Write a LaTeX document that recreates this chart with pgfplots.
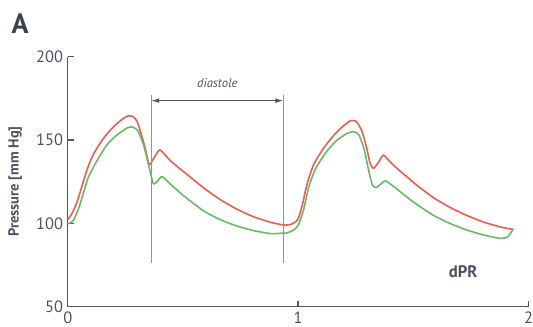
\documentclass[border=0pt]{standalone}
\usepackage{pgfplots}
\pgfplotsset{compat=1.18}
\usepackage{fontspec}
\setmainfont{PT Sans}
\usetikzlibrary{arrows.meta}
\definecolor{redc}{HTML}{EF5B4C}
\definecolor{greenc}{HTML}{66BB66}
\definecolor{axc}{HTML}{555555}
\definecolor{labc}{HTML}{4A5260}
\begin{document}
\begin{tikzpicture}
\useasboundingbox (-50.8pt,-15.2pt) rectangle (349pt,230pt);
\begin{axis}[
  at={(0,0)}, anchor=south west,
  scale only axis, width=345.75pt, height=187.5pt,
  xmin=0, xmax=2, ymin=50, ymax=200,
  axis x line=bottom, axis y line=left,
  axis line style={-, draw=axc, line width=1.1pt},
  xtick={0,1,2}, ytick={50,100,150,200},
  tick align=inside, major tick length=4.5pt,
  tick style={draw=axc, line width=1.1pt},
  /pgf/number format/assume math mode=true,
  tick label style={font=\fontsize{12.3}{14}\selectfont, text=labc},
  ylabel={Pressure [mm Hg]},
  every axis y label/.style={at={(axis description cs:-0.114,0.5)}, rotate=90, anchor=center, font=\bfseries\fontsize{10.9}{12}\selectfont, text=labc},
  clip=false,
]
\addplot[redc, line width=1.2pt, line join=round, smooth, tension=0.35] coordinates {
(0,102.2) (0.017,105.5) (0.039,112.2) (0.061,121.9) (0.083,131.8) (0.111,141.3)
(0.155,151.0) (0.198,157.8) (0.242,163.0) (0.264,164.5) (0.283,164.0) (0.300,161.5)
(0.314,155.8) (0.336,145.2) (0.350,136.5) (0.358,135.5) (0.380,140.5) (0.401,144.0)
(0.445,137.6) (0.488,132.6) (0.517,129.4) (0.590,121.2) (0.662,114.2) (0.735,108.4)
(0.807,103.9) (0.880,100.6) (0.923,99.3) (0.945,98.9) (0.967,99.3) (0.981,100.2)
(0.996,101.8) (1.003,104.0) (1.017,110.3) (1.039,123.8) (1.068,135.5) (1.111,145.2)
(1.155,152.9) (1.198,158.7) (1.227,161.6) (1.245,161.5) (1.257,160.3) (1.278,154.9)
(1.297,145.2) (1.311,136.5) (1.322,133.3) (1.329,133.1) (1.348,136.5) (1.370,140.9)
(1.401,136.5) (1.445,131.0) (1.488,126.0) (1.517,122.6) (1.590,115.1) (1.662,109.3)
(1.735,104.5) (1.807,100.6) (1.880,97.7) (1.935,96.3)
};
\addplot[greenc, line width=1.2pt, line join=round, smooth, tension=0.35] coordinates {
(0,99.6) (0.024,101.6) (0.046,108.4) (0.068,118.0) (0.090,127.7) (0.126,137.4)
(0.170,147.1) (0.213,152.9) (0.257,157.2) (0.278,157.8) (0.295,156.8) (0.307,154.9)
(0.329,147.1) (0.350,135.5) (0.370,124.2) (0.378,123.8) (0.387,124.8) (0.409,128.1)
(0.445,123.6) (0.488,118.3) (0.517,115.0) (0.590,107.4) (0.662,102.2) (0.735,98.3)
(0.807,95.6) (0.880,93.8) (0.923,94.0) (0.952,94.2) (0.967,95.0) (0.988,96.7)
(1.003,99.7) (1.024,108.4) (1.046,121.9) (1.075,132.6) (1.119,142.3) (1.162,149.1)
(1.206,153.5) (1.235,154.9) (1.250,154.5) (1.264,152.9) (1.285,145.2) (1.303,133.5)
(1.322,122.9) (1.340,121.5) (1.358,123.5) (1.380,125.4) (1.416,121.9) (1.459,117.1)
(1.488,114.0) (1.517,111.1) (1.590,104.5) (1.662,99.7) (1.735,95.8) (1.807,92.9)
(1.880,90.9) (1.909,91.9) (1.930,95.8)
};
\draw[gray!85, line width=0.9pt] (axis cs:0.362,177) -- (axis cs:0.362,76);
\draw[gray!85, line width=0.9pt] (axis cs:0.936,177) -- (axis cs:0.936,76);
\draw[axc, line width=0.8pt, {Latex[length=6pt,width=3.5pt]}-{Latex[length=6pt,width=3.5pt]}] (axis cs:0.362,173.6) -- (axis cs:0.936,173.6);
\node[text=labc, font=\itshape\fontsize{9.5}{11}\selectfont] at (axis cs:0.649,184.4) {diastole};
\node[text=labc, font=\bfseries\fontsize{12.5}{14}\selectfont] at (axis cs:1.716,70.8) {dPR};
\node[text=labc!80!black, font=\bfseries\fontsize{21}{24}\selectfont] at (axis description cs:-0.1035,1.134) {A};
\end{axis}
\end{tikzpicture}
\end{document}
